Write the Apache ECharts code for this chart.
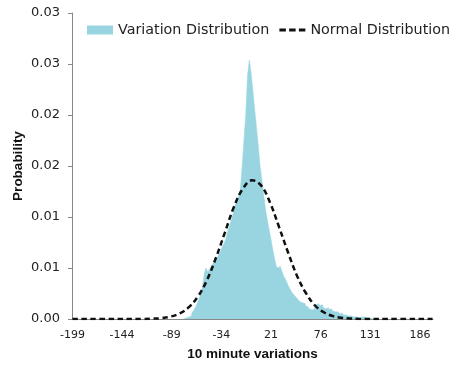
<!DOCTYPE html>
<html>
<head>
<meta charset="utf-8">
<script src="https://cdn.jsdelivr.net/npm/echarts@6/dist/echarts.min.js"></script>
<style>
  html, body { margin: 0; padding: 0; background: #fff; }
  #chart { width: 458px; height: 367px; }
</style>
</head>
<body>
<div id="chart"></div>
<script>
// histogram, bins 2 wide, first bin centred on -76
const binStart = -76
const binWidth = 2
const histProb = [
  0.0000, 0.0001, 0.0001, 0.0002, 0.0003, 0.0005, 0.0008, 0.0011, 0.0015, 0.0019,
  0.0024, 0.0031, 0.0044, 0.0050, 0.0046, 0.0049, 0.0052, 0.0055, 0.0056, 0.0059,
  0.0063, 0.0066, 0.0071, 0.0074, 0.0079, 0.0086, 0.0091, 0.0097, 0.0103, 0.0111,
  0.0115, 0.0120, 0.0127, 0.0149, 0.0175, 0.0200, 0.0239, 0.0254, 0.0241, 0.0223,
  0.0205, 0.0187, 0.0169, 0.0149, 0.0136, 0.0121, 0.0107, 0.0097, 0.0087, 0.0078,
  0.0068, 0.0059, 0.0051, 0.0050, 0.0052, 0.0047, 0.0042, 0.0039, 0.0035, 0.0031,
  0.0028, 0.0025, 0.0023, 0.0021, 0.0019, 0.0017, 0.0016, 0.0015, 0.0013, 0.0012,
  0.0010, 0.0009, 0.0009, 0.0011, 0.0014, 0.0015, 0.0013, 0.0014, 0.0011, 0.0010,
  0.0011, 0.0009, 0.0010, 0.0008, 0.0007, 0.0007, 0.0006, 0.0005, 0.0006, 0.0004,
  0.0004, 0.0003, 0.0004, 0.0003, 0.0002, 0.0002, 0.0002, 0.0001, 0.0001, 0.0002,
  0.0002, 0.0002, 0.0001, 0.0001, 0.0001, 0.0000
]

// fitted normal curve
const curveX = [-199, -150, -120, -110, -100, -90, -80, -70, -60, -50, -40, -30, -20, -10, 0,
  10, 20, 30, 40, 50, 60, 70, 80, 90, 100, 110, 120, 150, 200]
const curveP = [0, 0, 0.00001, 0.00003, 0.00009, 0.00024, 0.00055, 0.00116, 0.0022, 0.0038,
  0.0060, 0.0085, 0.0110, 0.0128, 0.0136, 0.0131, 0.0114, 0.0090, 0.0065, 0.0042,
  0.0025, 0.0013, 0.00064, 0.00028, 0.00011, 0.00004, 0.00001, 0, 0]

const xTickValues = [-199, -144, -89, -34, 21, 76, 131, 186]
const yTickLabels = ['0.00', '0.01', '0.01', '0.02', '0.02', '0.03', '0.03']

const histData = histProb.map((p, i) => [binStart + i * binWidth, p])
const curveData = curveX.map((x, i) => [x, curveP[i]])

const fill = '#98d5e1'
// three dashes for the legend, the two tiny bits only stretch the box to full height
const dashIcon = 'path://M0,0L0.01,0L0.01,0.01L0,0.01Z M0,3L7,3L7,6L0,6Z M10.5,3L17.5,3L17.5,6L10.5,6Z M21,3L28,3L28,6L21,6Z M27.99,8.99L28,8.99L28,9L27.99,9Z'

let myChart = echarts.init(document.getElementById('chart'))
myChart.setOption({
  animation: false,
  legend: {
    orient: 'horizontal',
    left: 82,
    top: 18,
    width: 376,
    itemWidth: 26,
    itemHeight: 9,
    itemGap: 10,
    textStyle: { fontFamily: 'DejaVu Sans', fontSize: 14.3, color: '#222' },
    data: [
      { name: 'Variation Distribution', icon: 'rect' },
      { name: 'Normal Distribution', icon: dashIcon, itemStyle: { color: '#111' } }
    ]
  },
  grid: { left: 72, right: 25, top: 13, bottom: 48, outerBoundsMode: 'none' },
  xAxis: {
    type: 'value',
    min: -199.5,
    max: 200.5,
    name: '10 minute variations',
    nameLocation: 'middle',
    nameGap: 28,
    nameMoveOverlap: false,
    nameTextStyle: { fontFamily: 'Liberation Sans', fontWeight: 'bold', fontSize: 13.5, color: '#111' },
    axisLine: { onZero: false, lineStyle: { color: '#888', width: 1 } },
    axisTick: { show: false },
    splitLine: { show: false },
    axisLabel: {
      customValues: xTickValues,
      margin: 11,
      fontFamily: 'DejaVu Sans',
      fontSize: 11,
      color: '#222'
    }
  },
  yAxis: {
    type: 'value',
    min: 0,
    max: 0.03,
    interval: 0.005,
    name: 'Probability',
    nameLocation: 'middle',
    nameGap: 47,
    nameMoveOverlap: false,
    nameTextStyle: { fontFamily: 'Liberation Sans', fontWeight: 'bold', fontSize: 13.5, color: '#111' },
    axisLine: { show: true, onZero: false, lineStyle: { color: '#888', width: 1 } },
    axisTick: { show: true, length: 4, lineStyle: { color: '#888' } },
    splitLine: { show: false },
    axisLabel: {
      margin: 12,
      fontFamily: 'DejaVu Sans',
      fontSize: 13,
      color: '#222',
      formatter: v => yTickLabels[Math.round(v / 0.005)]
    }
  },
  series: [
    {
      name: 'Variation Distribution',
      type: 'line',
      step: 'middle',
      data: histData,
      showSymbol: false,
      symbol: 'none',
      itemStyle: { color: fill },
      lineStyle: { color: fill, width: 0.5 },
      areaStyle: { color: fill, opacity: 1 },
      z: 2
    },
    {
      name: 'Normal Distribution',
      type: 'line',
      data: curveData,
      smooth: 0.4,
      showSymbol: false,
      symbol: 'none',
      itemStyle: { color: '#111' },
      lineStyle: { color: '#111', width: 2.5, type: [5.5, 3.5] },
      z: 3
    }
  ]
})
</script>
</body>
</html>
